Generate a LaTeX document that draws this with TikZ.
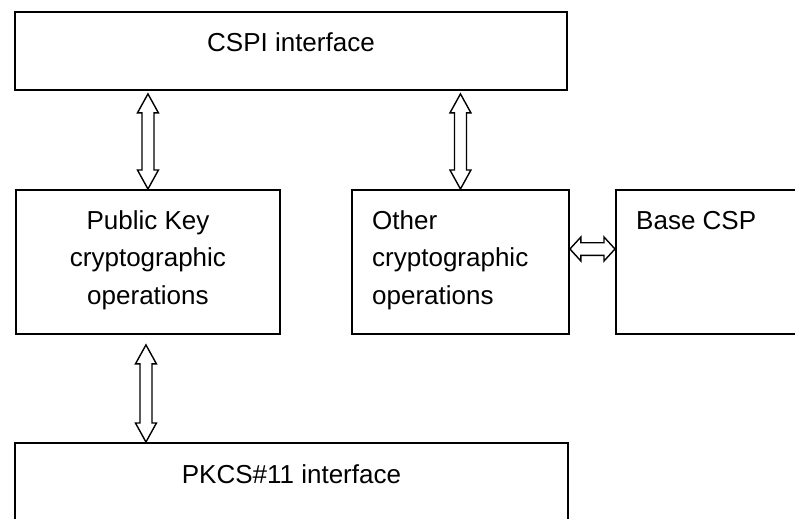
\documentclass[tikz,border=0pt]{standalone}
\usepackage{fontspec}
\setmainfont{Liberation Sans}
\usetikzlibrary{calc}

\tikzset{
    box/.style={draw, line width=1.9pt, rectangle, inner sep=0pt},
    txt/.style={inner sep=0pt, font={\fontsize{26}{37.5}\selectfont}},
    link/.style={line width=1.4pt, line join=miter},
    % hollow two-headed arrows, drawn as one outline
    vlink/.style={to path={
        -- ++(-10.5,19) -- ++(4.5,0) -- ($(\tikztotarget)+(-6,-19)$) -- ++(-4.5,0)
        -- (\tikztotarget) -- ++(10.5,-19) -- ++(-4.5,0) -- ($(\tikztostart)+(6,19)$)
        -- ++(4.5,0) -- cycle}},
    hlink/.style={to path={
        -- ++(11,-12) -- ++(0,5.7) -- ($(\tikztotarget)+(-11,-6.3)$) -- ++(0,-5.7)
        -- (\tikztotarget) -- ++(-11,12) -- ++(0,-5.7) -- ($(\tikztostart)+(11,6.3)$)
        -- ++(0,5.7) -- cycle}}
}

\begin{document}
\begin{tikzpicture}[x=1pt, y=-1pt]
    \useasboundingbox (0,0) rectangle (795,519);

    % Boxes
    \node[box, anchor=north west, minimum width=552, minimum height=78] (csp) at (14,11) {};
    \node[box, anchor=north west, minimum width=264, minimum height=144] (pk) at (15,189) {};
    \node[box, anchor=north west, minimum width=217, minimum height=144] (oth) at (351,189) {};
    \node[box, anchor=north west, minimum width=200, minimum height=144] (base) at (615,189) {};
    \node[box, anchor=north west, minimum width=553, minimum height=90] (pkcs) at (14,442) {};

    % Labels (multi-line nodes sit on their last baseline)
    \node[txt, anchor=base] (csptxt) at ($(csp.north)+(0,41)$) {CSPI interface};
    \node[txt, anchor=base, align=center] (pktxt) at ($(pk.north)+(0,115)$) {Public Key\\cryptographic\\operations};
    \node[txt, anchor=base west, align=left] (othtxt) at ($(oth.north west)+(21,115)$) {Other\\cryptographic\\operations};
    \node[txt, anchor=base west] (basetxt) at ($(base.north west)+(21,40)$) {Base CSP};
    \node[txt, anchor=base] (pkcstxt) at ($(pkcs.north)+(0,41)$) {PKCS\#11 interface};

    % Links
    \draw[link] ($(csp.south -| pk.north)+(0,3)$) to[vlink] (pk.north);
    \draw[link] ($(csp.south -| oth.north)+(0,3)$) to[vlink] (oth.north);
    \draw[link] ($(pk.south)+(-2,10)$) to[vlink] ($(pk.south |- pkcs.north)+(-2,0)$);
    \draw[link] ($(oth.north east)+(0,60)$) to[hlink] ($(base.north west)+(0,60)$);
\end{tikzpicture}
\end{document}
